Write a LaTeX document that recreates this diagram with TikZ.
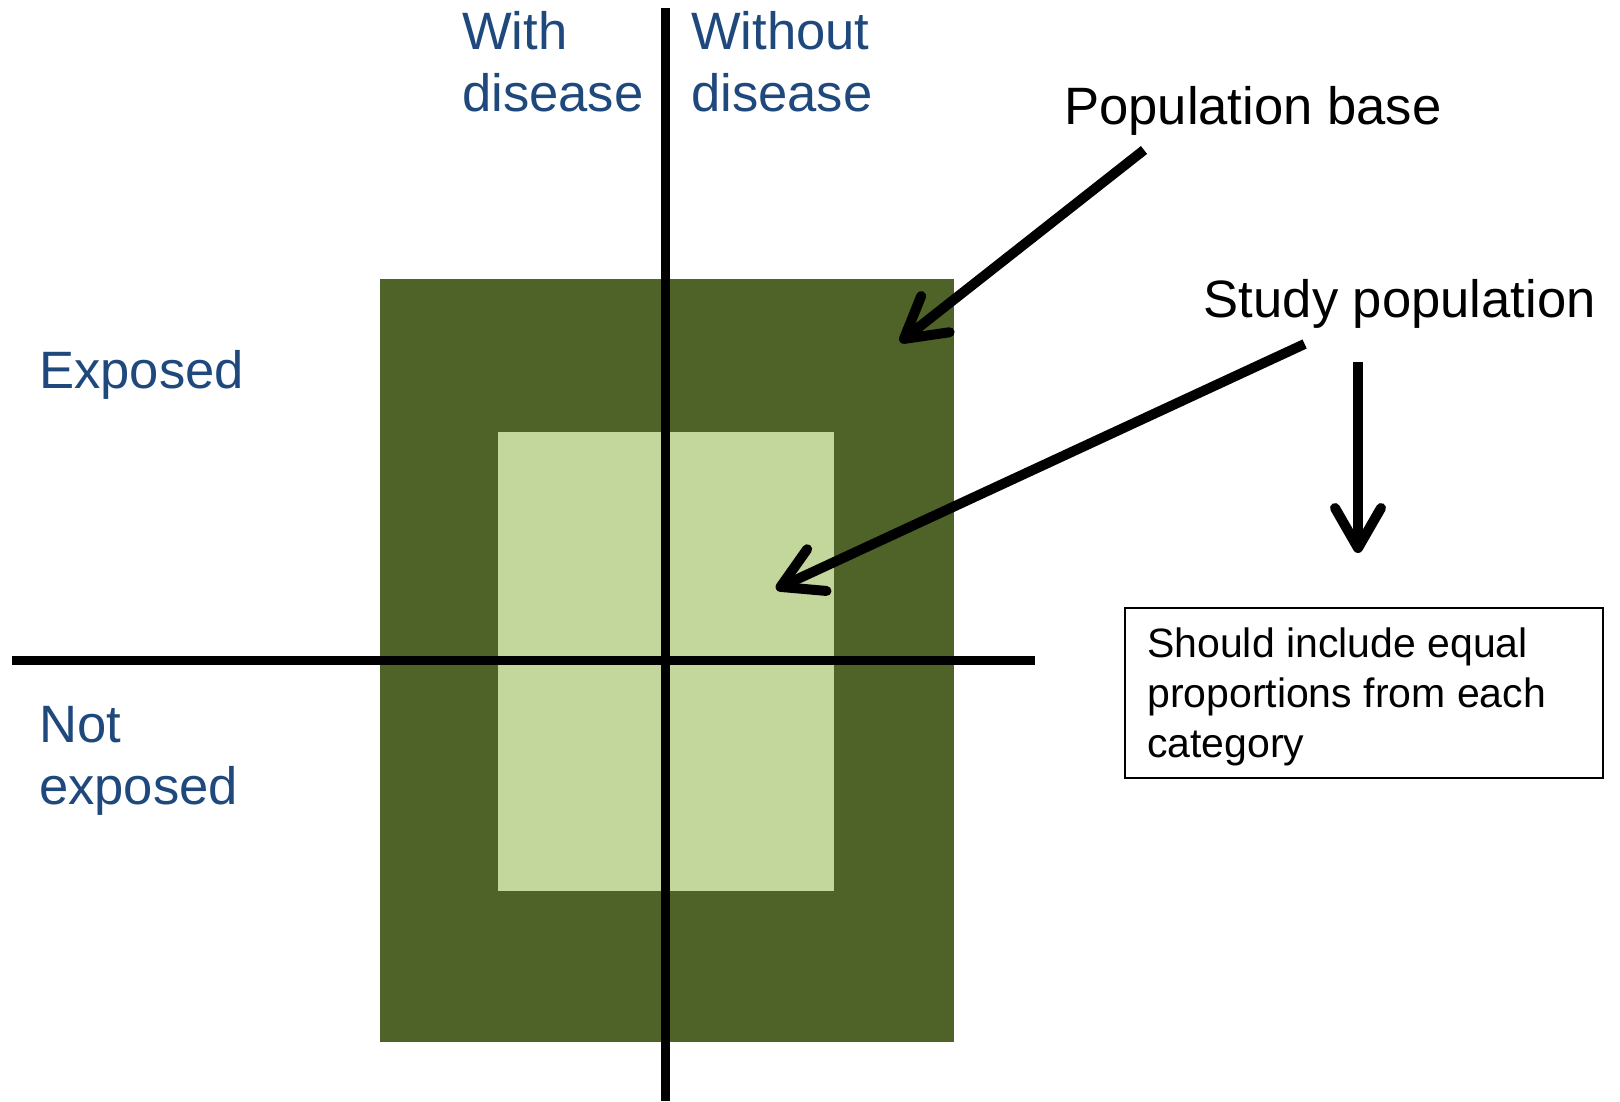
\documentclass[tikz,border=0pt]{standalone}
\usepackage{fontspec}
\setmainfont{Liberation Sans}
\usetikzlibrary{arrows.meta}
\definecolor{darkolive}{HTML}{4F6228}
\definecolor{lightolive}{HTML}{C3D69B}
\definecolor{labelblue}{HTML}{1F497D}
\begin{document}
\begin{tikzpicture}[x=1pt,y=-1pt,
  bigtext/.style={font=\fontsize{52.6}{62}\selectfont, inner sep=0pt, align=left},
  axislabel/.style={bigtext, text=labelblue},
  axisline/.style={line width=9pt},
  pointer/.style={line width=10pt, -{Straight Barb[length=40pt,width=46pt,round]}},
  notetext/.style={font=\fontsize{41}{49.6}\selectfont, inner sep=0pt, align=left},
]
\useasboundingbox (0,0) rectangle (1620,1101);
\fill[white] (0,0) rectangle (1620,1101);
\fill[darkolive] (380.2,279) rectangle (953.6,1041.5);
\fill[lightolive] (498,432) rectangle (833.8,890.6);
\coordinate (vtop) at (665.5,8);
\coordinate (vbot) at (665.5,1101);
\coordinate (hleft) at (12.4,660);
\coordinate (hright) at (1035.3,660);
\draw[axisline] (vtop) -- (vbot);
\draw[axisline] (hleft) -- (hright);
% base anchor of a multi-line node = baseline of its last line
\node[axislabel, anchor=base west] (withd) at (462,111.6) {With\\disease};
\node[axislabel, anchor=base west] (withoutd) at (691,111.6) {Without\\disease};
\node[axislabel, anchor=base west] (exposed) at (39,388.5) {Exposed};
\node[axislabel, anchor=base west] (notexp) at (39,804) {Not\\exposed};
\node[bigtext, anchor=base west] (popbase) at (1064,124) {Population base};
\node[bigtext, anchor=base west] (studypop) at (1203.7,317) {Study population};
\node[draw, line width=2pt, minimum width=477.5pt, minimum height=170.5pt, anchor=north west, inner sep=0pt] (notebox) at (1124,606.5) {};
\node[notetext, anchor=base west] (note) at (1147,757) {Should include equal\\proportions from each\\category};
\coordinate (pbtail) at (1144,150);
\coordinate (pbtip) at (900,342);
\coordinate (sptail) at (1304.6,344);
\coordinate (sptip) at (776,589);
\coordinate (dntail) at (1358,362);
\coordinate (dntip) at (1358,553);
\draw[pointer] (pbtail) -- (pbtip);
\draw[pointer] (sptail) -- (sptip);
\draw[pointer] (dntail) -- (dntip);
\end{tikzpicture}
\end{document}
